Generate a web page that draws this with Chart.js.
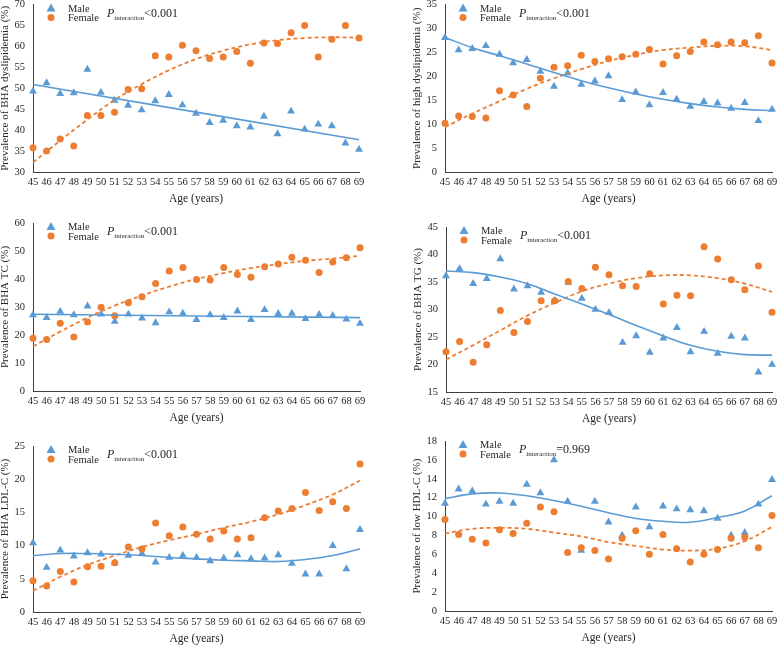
<!DOCTYPE html>
<html>
<head>
<meta charset="utf-8">
<script src="https://cdn.jsdelivr.net/npm/chart.js@4.4.1/dist/chart.umd.min.js"></script>
<style>
  html, body { margin: 0; padding: 0; background: #fff; }
  #wrap { position: relative; width: 778px; height: 645px; overflow: hidden; }
  .cell { position: absolute; width: 389px; height: 215px; }
</style>
</head>
<body>
<div id="wrap">
  <div class="cell" style="left:0;top:0"><canvas id="c1" width="389" height="215"></canvas></div>
  <div class="cell" style="left:389px;top:0"><canvas id="c2" width="389" height="215"></canvas></div>
  <div class="cell" style="left:0;top:215px"><canvas id="c3" width="389" height="215"></canvas></div>
  <div class="cell" style="left:389px;top:215px"><canvas id="c4" width="389" height="215"></canvas></div>
  <div class="cell" style="left:0;top:430px"><canvas id="c5" width="389" height="215"></canvas></div>
  <div class="cell" style="left:389px;top:430px"><canvas id="c6" width="389" height="215"></canvas></div>
</div>
<script>
// ages on the x axis
const ages = [45, 46, 47, 48, 49, 50, 51, 52, 53, 54, 55, 56, 57, 58, 59, 60, 61, 62, 63, 64, 65, 66, 67, 68, 69];
const trendAges = [45, 47, 49, 51, 53, 55, 57, 59, 61, 63, 65, 67, 69];
const lineAges = [45, 69];

// BHA dyslipidemia
const male1 = [49.3, 51.3, 48.7, 48.9, 54.5, 49.0, 47.1, 45.9, 44.8, 47.0, 48.5, 46.0, 44.0, 41.8, 42.3, 41.0, 40.7, 43.3, 39.1, 44.5, 40.2, 41.4, 41.0, 36.9, 35.4];
const female1 = [35.8, 35.0, 37.9, 36.2, 43.5, 43.5, 44.3, 49.7, 49.9, 57.8, 57.5, 60.3, 59.0, 57.1, 57.5, 58.8, 56.0, 60.8, 60.7, 63.3, 65.0, 57.5, 61.7, 65.0, 62.0];
const maleTrend1 = [50.9, 37.7];
const femaleTrend1 = [32.3, 37.5, 42.5, 47.2, 51.0, 54.3, 57.0, 59.0, 60.5, 61.5, 62.0, 62.2, 62.1];

// high dyslipidemia
const male2 = [28.1, 25.5, 25.8, 26.4, 24.6, 22.8, 23.5, 21.0, 17.9, 20.7, 18.3, 19.0, 20.1, 15.1, 16.7, 14.0, 16.6, 15.2, 13.7, 14.7, 14.4, 13.3, 14.5, 10.7, 13.1];
const female2 = [10.2, 11.7, 11.6, 11.3, 17.0, 16.1, 13.7, 19.6, 21.9, 22.2, 24.4, 23.1, 23.7, 24.1, 24.6, 25.6, 22.6, 24.3, 25.2, 27.2, 26.6, 27.2, 27.0, 28.5, 22.8];
const maleTrend2 = [28.1, 26.0, 24.3, 22.6, 20.8, 19.1, 17.6, 16.3, 15.2, 14.3, 13.6, 13.1, 12.8];
const femaleTrend2 = [9.4, 12.2, 14.8, 17.4, 19.6, 21.5, 23.2, 24.5, 25.5, 26.0, 26.4, 26.3, 25.5];

// BHA TC
const male3 = [27.2, 26.2, 28.4, 27.2, 30.3, 27.4, 24.8, 27.4, 26.0, 24.3, 28.2, 27.7, 25.5, 27.2, 26.2, 28.5, 25.5, 29.0, 27.6, 27.7, 25.8, 27.3, 26.9, 25.6, 24.1];
const female3 = [18.8, 18.4, 24.2, 19.3, 24.6, 29.9, 26.9, 31.5, 33.7, 38.4, 42.9, 44.1, 39.8, 39.6, 44.1, 41.6, 40.6, 44.4, 45.4, 47.8, 46.7, 42.3, 46.1, 47.6, 51.2];
const maleTrend3 = [27.4, 26.2];
const femaleTrend3 = [15.9, 21.2, 26.2, 30.5, 34.1, 37.3, 40.0, 42.1, 43.9, 45.3, 46.5, 47.3, 48.3];

// BHA TG
const male4 = [36.1, 37.4, 34.7, 35.6, 39.2, 33.7, 34.3, 33.1, 31.6, 34.9, 32.0, 30.0, 29.4, 24.0, 25.2, 22.2, 24.8, 26.7, 22.3, 26.0, 22.0, 25.1, 24.8, 18.6, 20.0];
const female4 = [22.3, 24.2, 20.4, 23.6, 29.8, 25.8, 27.8, 31.6, 31.6, 35.1, 33.8, 37.7, 36.3, 34.3, 34.2, 36.5, 31.0, 32.6, 32.5, 41.4, 39.2, 35.4, 33.6, 37.9, 29.5];
const maleTrend4 = [37.0, 36.7, 35.9, 34.7, 32.8, 31.0, 29.1, 27.1, 25.2, 23.5, 22.4, 21.8, 21.7];
const femaleTrend4 = [20.9, 23.5, 26.2, 28.9, 31.2, 33.3, 34.7, 35.7, 36.2, 36.2, 35.7, 34.7, 33.2];

// BHA LDL-C
const male5 = [10.4, 6.7, 9.3, 8.4, 8.9, 8.7, 7.4, 8.5, 8.8, 7.5, 8.2, 8.5, 8.2, 7.7, 8.1, 8.6, 8.0, 8.1, 8.6, 7.3, 5.7, 5.7, 10.0, 6.5, 12.4];
const female5 = [4.7, 3.9, 6.1, 4.5, 6.8, 6.9, 7.4, 9.8, 9.5, 13.4, 11.5, 12.8, 11.7, 11.0, 12.2, 11.0, 11.2, 14.2, 15.2, 15.6, 18.0, 15.3, 16.6, 15.6, 22.3];
const maleTrend5 = [8.5, 8.8, 8.8, 8.7, 8.5, 8.2, 8.0, 7.8, 7.7, 7.6, 7.9, 8.5, 9.5];
const femaleTrend5 = [3.2, 5.3, 7.1, 8.5, 9.8, 10.8, 11.7, 12.7, 13.6, 14.7, 16.1, 17.7, 19.8];

// low HDL-C
const male6 = [11.4, 12.9, 12.7, 11.3, 11.6, 11.4, 13.4, 12.5, 16.0, 11.6, 6.4, 11.6, 9.4, 8.0, 11.0, 8.9, 11.1, 10.8, 10.7, 10.6, 9.8, 8.0, 8.3, 11.3, 13.9];
const female6 = [9.7, 8.1, 7.6, 7.2, 8.6, 8.2, 9.3, 11.0, 10.5, 6.2, 6.7, 6.4, 5.5, 7.7, 8.5, 6.0, 8.1, 6.6, 5.2, 6.0, 6.5, 7.7, 7.8, 6.7, 10.1];
const maleTrend6 = [11.9, 12.4, 12.5, 12.2, 11.7, 11.1, 10.4, 9.8, 9.5, 9.4, 9.9, 10.6, 12.2];
const femaleTrend6 = [8.2, 8.7, 8.8, 8.7, 8.3, 7.9, 7.3, 6.9, 6.5, 6.4, 6.6, 7.4, 8.9];

const yTitles = [
    'Prevalence of BHA dyslipidemia (%)',
    'Prevalence of high dyslipidemia (%)',
    'Prevalence of BHA TC (%)',
    'Prevalence of BHA TG (%)',
    'Prevalence of BHA LDL-C (%)',
    'Prevalence of low HDL-C (%)'
];
const pValues = ['<0.001', '<0.001', '<0.001', '<0.001', '<0.001', '=0.969'];
const yRanges = [[30, 70, 5], [0, 35, 5], [0, 60, 10], [15, 45, 5], [0, 25, 5], [0, 18, 2]];

const BLUE = '#5b9bd5';
const ORANGE = '#ed7d31';
const TEXT = '#262626';
const SERIF = "'Liberation Serif', 'Times New Roman', serif";

// plot box of each panel, local pixels: left, right, top, bottom
const boxes = [
    [33, 359, 4, 172],
    [56, 383, 4, 172],
    [33, 360, 8, 176],
    [57, 383, 12, 177],
    [33, 360, 16, 182],
    [56, 383, 11, 181]
];

const pts = (xs, ys) => xs.map((x, i) => ({ x: x, y: ys[i] }));

// legend drawn inside the plot, top-left
const innerLegend = {
    id: 'innerLegend',
    afterDraw(chart, args, opts) {
        const ctx = chart.ctx;
        const a = chart.chartArea;
        const mx = a.left + 18;
        ctx.save();
        // triangle
        ctx.fillStyle = BLUE;
        ctx.beginPath();
        ctx.moveTo(mx, a.top - 1);
        ctx.lineTo(mx + 4.5, a.top + 7);
        ctx.lineTo(mx - 4.5, a.top + 7);
        ctx.closePath();
        ctx.fill();
        // circle
        ctx.fillStyle = ORANGE;
        ctx.beginPath();
        ctx.arc(mx, a.top + 13, 3.5, 0, Math.PI * 2);
        ctx.fill();

        ctx.fillStyle = TEXT;
        ctx.textBaseline = 'alphabetic';
        ctx.textAlign = 'left';
        ctx.font = '10.5px ' + SERIF;
        ctx.fillText('Male', a.left + 35, a.top + 7);
        ctx.fillText('Female', a.left + 35, a.top + 16.5);

        let px = a.left + 74;
        ctx.font = 'italic 12px ' + SERIF;
        ctx.fillText('P', px, a.top + 12);
        px += ctx.measureText('P').width;
        ctx.font = '7px ' + SERIF;
        ctx.fillText('interaction', px, a.top + 15);
        px += ctx.measureText('interaction').width;
        ctx.font = '12px ' + SERIF;
        ctx.fillText(opts.p, px, a.top + 12);
        ctx.restore();
    }
};

function makePanel(idx, male, female, maleTrend, femaleTrend, maleTrendAges, femaleTrendAges) {
    const [l, r, t, b] = boxes[idx];
    const [ymin, ymax, ystep] = yRanges[idx];
    const ctx = document.getElementById('c' + (idx + 1));
    new Chart(ctx, {
        type: 'scatter',
        data: {
            datasets: [
                {
                    type: 'line', data: pts(maleTrendAges, maleTrend),
                    borderColor: BLUE, borderWidth: 1.6, pointRadius: 0,
                    tension: 0.4, fill: false, clip: false, order: 0
                },
                {
                    type: 'line', data: pts(femaleTrendAges, femaleTrend),
                    borderColor: ORANGE, borderWidth: 1.8, borderDash: [4, 3], pointRadius: 0,
                    tension: 0.4, fill: false, clip: false, order: 1
                },
                {
                    data: pts(ages, female), pointStyle: 'circle', pointRadius: 3.5,
                    backgroundColor: ORANGE, borderColor: ORANGE, borderWidth: 0, clip: false, order: 2
                },
                {
                    data: pts(ages, male), pointStyle: 'triangle', pointRadius: 4.6,
                    backgroundColor: BLUE, borderColor: BLUE, borderWidth: 0, clip: false, order: 3
                }
            ]
        },
        options: {
            responsive: false,
            animation: false,
            events: [],
            layout: { padding: { left: l - 33, right: 389 - r, top: t, bottom: 215 - b - 33 } },
            plugins: {
                legend: { display: false },
                tooltip: { enabled: false },
                innerLegend: { p: pValues[idx] }
            },
            scales: {
                x: {
                    type: 'linear', min: 45, max: 69,
                    ticks: {
                        stepSize: 1, autoSkip: false, maxRotation: 0, padding: 4,
                        color: TEXT, font: { family: SERIF, size: 10.5 }
                    },
                    grid: { display: false, drawTicks: false },
                    border: { display: true, color: '#404040', width: 1 },
                    title: {
                        display: true, text: 'Age (years)', color: TEXT,
                        font: { family: SERIF, size: 11.5, lineHeight: 1 }, padding: 0
                    },
                    afterFit(s) { s.height = 33; s.paddingLeft = 0; s.paddingRight = 0; }
                },
                y: {
                    min: ymin, max: ymax,
                    ticks: {
                        stepSize: ystep, padding: 8,
                        color: TEXT, font: { family: SERIF, size: 10.5 }
                    },
                    grid: { display: false, drawTicks: false },
                    border: { display: true, color: '#404040', width: 1 },
                    title: {
                        display: true, text: yTitles[idx], color: TEXT,
                        font: { family: SERIF, size: 11, lineHeight: 1 }, padding: 0
                    },
                    afterFit(s) { s.width = 33; s.paddingTop = 0; s.paddingBottom = 0; }
                }
            }
        },
        plugins: [innerLegend]
    });
}

makePanel(0, male1, female1, maleTrend1, femaleTrend1, lineAges, trendAges);
makePanel(1, male2, female2, maleTrend2, femaleTrend2, trendAges, trendAges);
makePanel(2, male3, female3, maleTrend3, femaleTrend3, lineAges, trendAges);
makePanel(3, male4, female4, maleTrend4, femaleTrend4, trendAges, trendAges);
makePanel(4, male5, female5, maleTrend5, femaleTrend5, trendAges, trendAges);
makePanel(5, male6, female6, maleTrend6, femaleTrend6, trendAges, trendAges);
</script>
</body>
</html>
